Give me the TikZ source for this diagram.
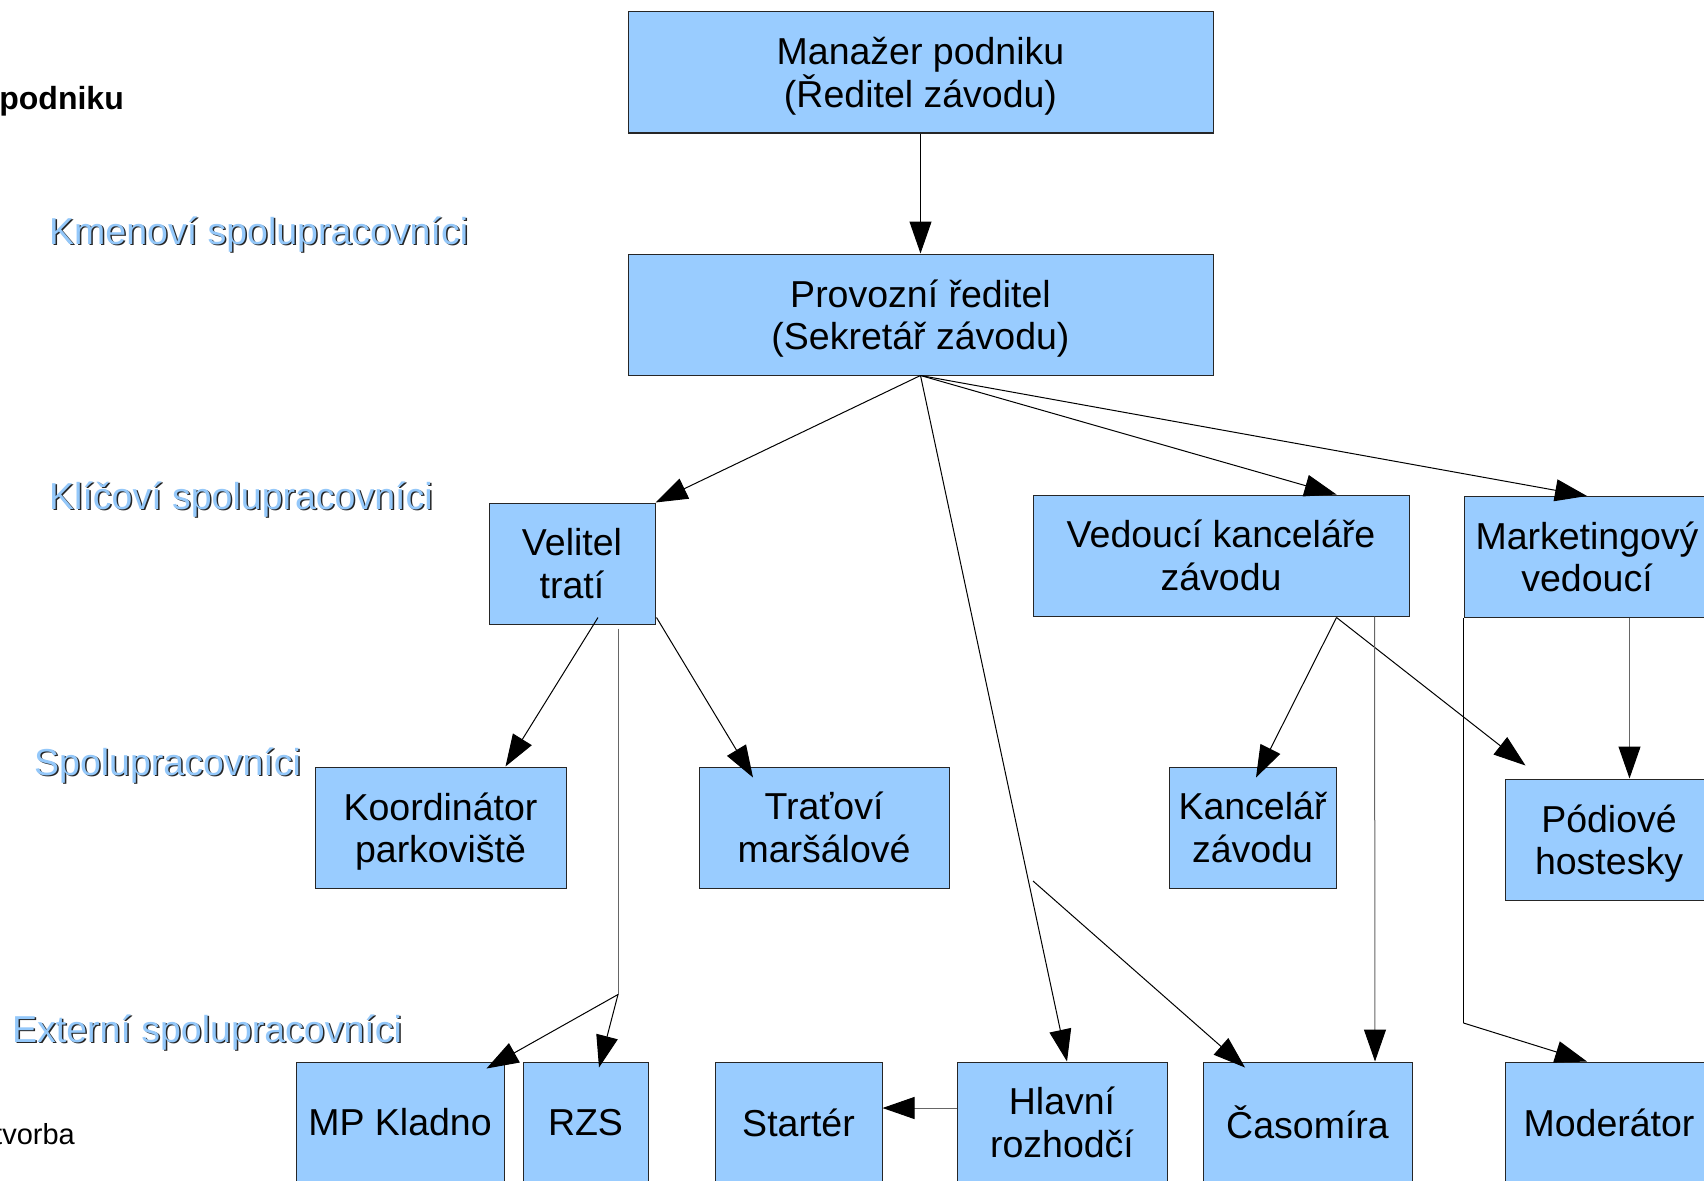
\documentclass[tikz,border=0pt]{standalone}
\usepackage{fontspec}
\setmainfont{Liberation Sans}
\usetikzlibrary{arrows.meta,calc}
\definecolor{boxblue}{HTML}{99CCFF}
\definecolor{lblblue}{HTML}{94C8FA}
\definecolor{linegray}{HTML}{666666}
\newcommand{\nodepth}[1]{\raisebox{0pt}[\height][0pt]{#1}}
\begin{document}
\begin{tikzpicture}[x=1pt,y=-1pt,
  box/.style={draw=black!85,fill=boxblue,line width=1pt,inner sep=0pt,align=center,
    font=\fontsize{37.5}{42.5}\selectfont,anchor=center,minimum height=121pt},
  lbl/.style={text=lblblue,inner sep=0pt,anchor=base west,font=\fontsize{37.5}{42.5}\selectfont},
  lblsh/.style={text=black!85,inner sep=0pt,anchor=base west,font=\fontsize{37.5}{42.5}\selectfont},
  conn/.style={line width=1pt,draw=black,-{Triangle[length=32pt,width=22pt,color=black]}},
  gconn/.style={conn,draw=linegray},
  gline/.style={line width=1pt,draw=linegray},
  bline/.style={line width=1pt,draw=black}]
\useasboundingbox (0,0) rectangle (1704,1180);
\clip (0,0) rectangle (1704,1180);
\fill[white] (0,0) rectangle (1704,1180);

% side texts
\node[inner sep=0pt,anchor=base east,font=\bfseries\fontsize{32}{36}\selectfont] (hdr) at (124,110) {podniku};
\node[inner sep=0pt,anchor=base east,font=\fontsize{29}{34}\selectfont] (tv) at (75,1144) {tvorba};

\node[lblsh] (kmS) at (50.5,245.5) {Kmenoví spolupracovníci};
\node[lbl]   (km)  at (49,244) {Kmenoví spolupracovníci};
\node[lblsh] (klS) at (50.5,510.5) {Klíčoví spolupracovníci};
\node[lbl]   (kl)  at (49,509) {Klíčoví spolupracovníci};
\node[lblsh] (spS) at (35.5,776.5) {Spolupracovníci};
\node[lbl]   (sp)  at (34,775) {Spolupracovníci};
\node[lblsh] (exS) at (13.5,1043.5) {Externí spolupracovníci};
\node[lbl]   (ex)  at (12,1042) {Externí spolupracovníci};

% boxes
\node[box,minimum width=585pt] (mgr)  at (920.5,72.5)  {Manažer podniku\\\nodepth{(Ředitel závodu)}};
\node[box,minimum width=585pt] (prov) at (920.5,314.5) {Provozní ředitel\\\nodepth{(Sekretář závodu)}};
\node[box,minimum width=166pt] (vel)  at (572,563.5)   {Velitel\\tratí};
\node[box,minimum width=376pt] (ved)  at (1221,555.5)  {Vedoucí kanceláře\\závodu};
\node[box,minimum width=246pt] (mkt)  at (1587,557)    {Marketingový\\vedoucí};
\node[box,minimum width=251pt] (koord) at (440.5,827.5) {Koordinátor\\\nodepth{parkoviště}};
\node[box,minimum width=250pt] (trat) at (824,827.5)   {Traťoví\\maršálové};
\node[box,minimum width=167pt] (kanc) at (1252.5,827.5) {Kancelář\\závodu};
\node[box,minimum width=208pt] (pod)  at (1609,839.5)  {Pódiové\\\nodepth{hostesky}};
\node[box,minimum width=208pt] (mp)   at (400,1122.5)  {MP Kladno};
\node[box,minimum width=125pt] (rzs)  at (585.5,1122.5) {RZS};
\node[box,minimum width=167pt] (start) at (798.5,1122.5) {Startér};
\node[box,minimum width=210pt] (hlav) at (1062,1122.5) {Hlavní\\rozhodčí};
\node[box,minimum width=209pt] (cas)  at (1307.5,1122.5) {Časomíra};
\node[box,minimum width=208pt] (mod)  at (1609,1122.5) {Moderátor};

% connectors
\draw[conn] (mgr.south) -- (prov.north);
\draw[conn] (prov.south) -- (vel.north east);
\draw[conn] (prov.south) -- ($(hlav.north)+(5,0)$);
\draw[conn] (prov.south) -- ($(ved.north west)+(304,0)$);
\draw[conn] (prov.south) -- (mkt.north);

\coordinate (velA) at ($(vel.south)+(26,-7)$);
\coordinate (velB) at ($(vel.south east)+(1,-7)$);
\coordinate (velC) at ($(vel.south)+(46,4)$);
\coordinate (velJ) at ($(velC)+(0,366)$);
\draw[conn] (velA) -- ($(koord.north)+(65,0)$);
\draw[conn] (velB) -- ($(trat.north)+(-71,11)$);
\draw[gline] (velC) -- (velJ);
\draw[conn] (velJ) -- ($(mp.north east)+(-18,7)$);
\draw[conn] (velJ) -- ($(rzs.north)+(13.5,6)$);

\draw[gconn] ($(hlav.west)+(0,-14.5)$) -- ($(start.east)+(0,-14.5)$);

\coordinate (freeC) at (1033,881);
\draw[conn] (freeC) -- ($(cas.north)+(-62.5,6)$);

\coordinate (vedA) at ($(ved.south west)+(304,1)$);
\draw[conn] (vedA) -- ($(kanc.north)+(3.5,11)$);
\draw[conn] (vedA) -- ($(pod.north west)+(21,-13)$);
\draw[gconn] ($(ved.south west)+(342,0)$) -- ($(cas.north)+(67.5,0)$);

\draw[gconn] ($(mkt.south west)+(166,0)$) -- ($(pod.north west)+(125,0)$);
\coordinate (mktB) at ($(mkt.south west)+(0,405)$);
\draw[bline] (mkt.south west) -- (mktB);
\draw[conn] (mktB) -- ($(mod.north)+(-22,0)$);
\end{tikzpicture}
\end{document}
